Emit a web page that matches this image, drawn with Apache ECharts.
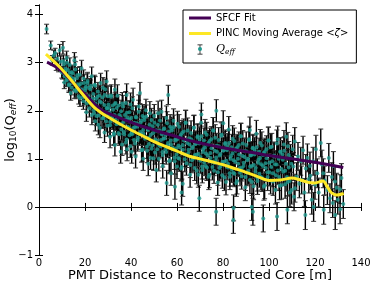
<!DOCTYPE html>
<html><head><meta charset="utf-8">
<script src="https://cdn.jsdelivr.net/npm/echarts@6/dist/echarts.min.js"></script>
<style>html,body{margin:0;padding:0;background:#fff}#c{width:374px;height:289px}</style>
</head><body><div id="c"></div><script>
// axis ticks
const xTicks = [0, 20, 40, 60, 80, 100, 120, 140];
const yTicks = [-1, 0, 1, 2, 3, 4];

// SFCF fit curve
const sfcfX = [3.5, 10, 15, 20, 26.5, 30, 40, 50, 60, 64, 70, 80, 90, 94, 100, 110, 120, 132.3];
const sfcfY = [3.01, 2.82, 2.57, 2.34, 2.04, 1.95, 1.76, 1.60, 1.46, 1.40, 1.33, 1.23, 1.15, 1.12, 1.07, 1.00, 0.93, 0.82];

// PINC moving average
const pincX = [3, 6, 9, 12, 15, 18, 21, 24, 27, 30, 35, 40, 45, 50, 55, 60, 65, 70, 75, 80, 85, 90, 95, 100, 105, 110, 113, 117, 120, 123.5, 125, 127, 129.5, 132.5];
const pincY = [3.18, 3.05, 2.91, 2.75, 2.58, 2.40, 2.23, 2.07, 1.96, 1.87, 1.73, 1.60, 1.48, 1.36, 1.26, 1.16, 1.06, 1.00, 0.94, 0.88, 0.80, 0.72, 0.63, 0.55, 0.56, 0.60, 0.57, 0.51, 0.50, 0.54, 0.45, 0.30, 0.25, 0.28];

// Q_eff points: [distance, log10(Qeff), error]
const qeffA = [
[3.3,3.70,0.10],[5.1,3.36,0.09],[5.8,3.05,0.10],[6.4,3.15,0.11],[7.0,3.20,0.10],[7.5,2.95,0.11],[8.0,3.08,0.12],[8.5,2.92,0.11],[9.0,3.26,0.12],[9.4,3.02,0.12],[9.9,2.80,0.12],[10.4,3.31,0.13],[10.8,2.96,0.12],[11.2,2.72,0.13],[11.6,2.88,0.13],[12.0,3.10,0.14],[12.3,2.64,0.13],
[12.6,2.85,0.14],[13.0,2.55,0.14],[13.4,2.95,0.15],[13.8,2.70,0.14],[14.2,2.48,0.15],[14.6,2.78,0.15],[15.0,2.62,0.15],[15.4,3.05,0.16],[15.7,2.96,0.16],[16.1,2.40,0.15],[16.5,2.68,0.16],[16.9,2.55,0.16],[17.3,2.30,0.16],[17.7,2.75,0.17],[18.1,2.45,0.16],[18.5,2.88,0.17],[18.9,2.38,0.17],[19.3,2.20,0.17],[19.6,2.58,0.17],[20.0,2.42,0.18],[20.4,2.50,0.17],[20.7,2.15,0.18],[21.1,2.62,0.18],[21.5,2.30,0.18],[21.9,2.05,0.18],[22.3,2.45,0.19],[22.9,2.72,0.19],[23.2,2.18,0.19],[23.6,2.35,0.18],[24.0,1.95,0.19],[24.4,2.52,0.19],[24.5,1.78,0.20],[24.8,2.25,0.19],[25.2,2.08,0.20],[25.6,2.40,0.19],[26.0,1.90,0.20],[26.4,2.20,0.20],[26.5,1.64,0.20],[26.8,2.58,0.20],[27.2,2.00,0.20],[27.6,2.28,0.21],[28.0,1.85,0.20],[28.4,2.12,0.21],[28.5,1.55,0.21],[28.8,2.45,0.21],[29.2,1.78,0.21],[29.4,2.61,0.22],[29.6,2.05,0.21],[30.0,2.30,0.22],[30.3,1.92,0.22],
[30.5,2.06,0.22],[30.9,1.70,0.22],[30.9,1.46,0.23],[31.3,2.29,0.22],[31.7,1.87,0.22],[32.1,2.11,0.23],[32.5,1.50,0.22],[32.9,1.91,0.23],[33.0,2.44,0.22],[33.0,1.29,0.23],[33.3,2.16,0.23],[33.7,1.72,0.22],[34.1,2.31,0.23],[34.5,1.54,0.23],[34.9,1.91,0.22],[35.3,1.72,0.23],[35.5,1.15,0.24],[35.7,1.99,0.23],[36.1,1.30,0.23],[36.5,2.09,0.23],[36.9,1.56,0.22],[37.3,1.82,0.23],[37.7,2.16,0.24],[38.1,1.40,0.23],[38.1,2.33,0.23],[38.3,1.20,0.24],[38.5,1.86,0.23],[38.9,1.65,0.23],[39.3,1.97,0.24],[39.7,1.26,0.23],[40.1,1.85,0.23],[40.3,1.15,0.24],[40.5,1.51,0.23],[40.9,2.23,0.24],[41.3,1.39,0.23],[41.7,1.66,0.24],[42.0,1.05,0.24],[42.1,1.87,0.23],[42.5,1.74,0.24],[42.9,1.39,0.23],[43.3,1.98,0.24],[43.9,2.37,0.22],[44.1,1.56,0.24],[44.5,1.80,0.23],[44.9,1.19,0.24],[45.3,1.00,0.24],[45.3,1.60,0.23],[45.7,1.86,0.24],[46.1,1.42,0.24],[46.5,2.01,0.23],[46.9,1.25,0.24],[47.3,1.62,0.24],[47.5,0.90,0.25],[47.7,1.44,0.23],[48.1,1.71,0.24],[48.5,1.02,0.24],[48.9,1.81,0.24],[49.3,1.28,0.24],[49.7,1.54,0.23],[50.1,1.89,0.24],[50.5,1.13,0.24],[50.9,1.59,0.24],[51.0,0.77,0.25],[51.3,1.38,0.24],[51.7,1.71,0.24],[52.1,1.00,0.25],[52.5,1.59,0.24],[52.9,1.26,0.24],[53.3,1.98,0.24],[53.7,1.14,0.24],[53.8,0.85,0.25],[54.1,1.42,0.24],[54.5,1.63,0.25],[54.9,1.50,0.24],[55.3,1.14,0.25],[55.5,0.50,0.26],[55.7,1.74,0.24],[56.1,1.33,0.25],[56.2,2.33,0.20],[56.5,1.57,0.24],[56.9,0.97,0.25],[57.3,1.38,0.25],[57.4,0.70,0.25],[57.7,1.63,0.24],[58.1,1.20,0.25],[58.5,1.79,0.25],[58.9,1.03,0.25],[59.1,0.42,0.26],[59.3,1.40,0.25],[59.7,1.22,0.25],[60.0,0.84,0.25],
[60.1,1.41,0.25],[60.5,1.02,0.25],[60.9,1.67,0.25],[61.3,1.24,0.25],[61.7,1.50,0.26],[62.0,0.30,0.26],[62.1,0.83,0.25],[62.5,1.29,0.25],[62.5,0.48,0.26],[62.9,1.57,0.26],[63.3,1.09,0.25],[63.7,1.75,0.26],[64.1,0.91,0.25],[64.5,1.33,0.26],[64.9,1.12,0.25],[65.3,1.43,0.26],[65.7,0.67,0.26],[66.1,1.54,0.25],[66.5,0.97,0.26],[66.9,1.25,0.25],[67.3,1.64,0.26],[67.7,0.81,0.26],[68.1,1.31,0.25],[68.5,1.09,0.26],[68.9,1.45,0.26],[69.3,0.67,0.26],[69.7,0.18,0.27],[69.7,1.32,0.25],[70.1,0.96,0.26],[70.5,1.75,0.26],[70.6,1.92,0.24],[70.9,0.84,0.26],[71.3,1.14,0.26],[71.7,1.38,0.26],[72.1,1.24,0.26],[72.5,0.85,0.27],[72.9,1.50,0.26],[73.3,1.07,0.26],[73.7,1.33,0.26],[74.1,0.67,0.27],[74.5,1.12,0.26],[74.9,1.41,0.26],[75.3,0.94,0.26],[75.7,1.59,0.27],[76.1,0.75,0.26],[76.5,1.17,0.26],[76.9,0.96,0.27],[77.0,-0.10,0.28],[77.1,2.00,0.23],[77.3,1.27,0.26],[77.7,0.51,0.27],[78.1,1.39,0.26],[78.5,0.81,0.27],[78.9,1.10,0.26],[79.3,1.48,0.27],[79.7,0.66,0.27],[80.1,1.17,0.26],[80.1,1.74,0.26],[80.5,0.94,0.27],[80.9,1.31,0.26],[81.3,0.52,0.27],[81.7,1.18,0.27],[82.1,0.82,0.26],[82.5,1.61,0.27],[82.9,0.70,0.27],[83.3,1.00,0.26],[83.7,1.24,0.27],[84.1,1.11,0.27],[84.5,0.71,0.27],[84.5,-0.27,0.28],[84.6,-0.02,0.27],[84.9,1.37,0.27],[85.3,0.94,0.27],[85.7,1.21,0.27],[86.1,0.54,0.27],[86.5,1.00,0.27],[86.9,1.29,0.27],[87.3,0.81,0.27],[87.7,1.47,0.27],[88.1,0.64,0.27],[88.5,1.06,0.27],[88.9,0.85,0.27],[89.3,1.16,0.27],[89.7,0.41,0.28],[90.1,1.29,0.27],[90.5,0.71,0.27],[90.9,1.00,0.27],[91.3,1.39,0.27],[91.7,0.56,0.28],[91.7,1.60,0.27],[92.1,1.07,0.27],[92.5,0.00,0.28],[92.5,0.85,0.27],[92.9,1.22,0.27],[93.0,-0.10,0.28],[93.3,0.43,0.28],[93.7,1.09,0.27],[94.1,0.73,0.27],[94.5,1.52,0.28],[94.9,0.61,0.28],[95.3,0.92,0.27],[95.7,1.15,0.28],[96.1,1.02,0.27],[96.5,0.63,0.28],[96.9,1.28,0.28],[97.3,0.85,0.27],[97.5,-0.24,0.28],[97.7,1.12,0.28],[98.1,0.45,0.28],[98.5,0.91,0.27],[98.9,1.20,0.28],[99.3,0.72,0.28],[99.7,1.38,0.28],
[100.2,0.92,0.28],[100.7,0.55,0.28],[101.2,1.25,0.28],[101.7,0.70,0.28],[102.2,1.05,0.28],[102.8,0.35,0.29],[103.3,0.88,0.28],[103.5,-0.20,0.29],[103.8,1.40,0.28],[104.4,0.62,0.28],[104.9,1.15,0.29],[105.4,0.45,0.29],[106.0,0.98,0.28],[106.5,1.30,0.29],[107.0,0.75,0.28],[107.5,1.46,0.29],[108.0,-0.06,0.29],[108.1,0.52,0.29],[108.6,1.08,0.28],[109.1,0.30,0.29],[109.7,0.90,0.29],[110.3,1.20,0.29],[110.6,0.84,0.29],[110.9,0.21,0.29],[111.2,1.36,0.29],[111.3,0.39,0.29],[112.0,0.63,0.29],[112.6,1.05,0.29],[113.2,0.48,0.29],[113.8,0.95,0.29],[114.2,0.56,0.29],[114.8,1.18,0.29],[115.4,0.30,0.29],[115.8,-0.17,0.30],[116.0,0.80,0.29],[116.7,1.02,0.29],[117.3,0.58,0.29],[117.8,0.85,0.29],[118.0,0.65,0.29],[118.6,0.15,0.30],[119.2,0.95,0.29],[119.4,0.00,0.30],[120.0,0.46,0.30],[120.4,1.20,0.29],[121.0,0.70,0.30],[121.6,0.30,0.30],[122.5,1.33,0.29],[123.0,0.88,0.30],[123.6,0.70,0.30],[123.8,-0.06,0.30],[124.2,0.55,0.30],[125.4,0.35,0.30],[126.0,1.02,0.30],[126.5,0.18,0.30],[127.3,0.62,0.30],[127.7,0.08,0.30],[128.0,0.85,0.30],[128.7,0.53,0.30],[128.8,-0.17,0.30],[129.4,0.40,0.30],[129.9,0.15,0.30],[130.9,0.37,0.30],[130.9,-0.05,0.30],[131.5,0.60,0.30],[132.3,0.06,0.30]
];
const qeffB = [
[10.2,2.79,0.13],[10.6,3.03,0.13],[11.0,2.59,0.13],[11.4,2.83,0.14],[11.8,2.64,0.14],[12.2,3.00,0.14],[12.6,2.72,0.14],[13.0,2.53,0.15],[13.4,2.79,0.15],[13.8,2.37,0.15],[14.2,2.80,0.15],[14.6,2.57,0.15],[15.0,2.67,0.16],[15.4,2.42,0.16],[15.8,2.86,0.16],[16.2,2.44,0.16],[16.6,2.74,0.16],[17.0,2.48,0.17],[17.4,2.53,0.17],[17.8,2.26,0.17],[18.2,2.56,0.17],[18.6,2.43,0.17],[19.0,2.28,0.18],[19.4,2.67,0.18],[19.8,2.31,0.18],
[20.2,2.47,0.18],[20.6,1.97,0.19],[21.0,2.58,0.19],[21.4,2.25,0.19],[21.8,2.48,0.19],[22.2,2.16,0.19],[22.6,2.52,0.19],[23.0,1.91,0.20],[23.4,2.26,0.20],[23.8,2.01,0.20],[24.2,2.54,0.20],[24.6,2.15,0.20],[25.0,1.89,0.20],[25.4,2.29,0.20],[25.8,1.71,0.21],[26.2,2.32,0.21],[26.6,2.02,0.21],[27.0,2.17,0.21],[27.4,1.84,0.21],[27.8,2.48,0.21],[28.2,1.89,0.21],[28.6,2.33,0.21],[29.0,1.97,0.22],[29.4,2.06,0.22],[29.8,1.69,0.22],
[30.2,2.13,0.22],[30.6,1.97,0.22],[31.0,1.77,0.22],[31.4,2.32,0.22],[31.8,1.83,0.22],[32.2,2.02,0.23],[32.6,1.53,0.23],[33.0,2.14,0.23],[33.4,1.82,0.23],[33.8,2.06,0.23],[34.2,1.75,0.23],[34.6,2.11,0.23],[35.0,1.51,0.23],[35.4,1.87,0.23],[35.8,1.61,0.23],[36.2,2.15,0.23],[36.6,1.76,0.23],[37.0,1.51,0.24],[37.4,1.91,0.24],[37.8,1.34,0.24],[38.2,1.96,0.24],[38.6,1.66,0.24],[39.0,1.82,0.24],[39.4,1.49,0.24],[39.8,2.13,0.24],
[40.2,1.54,0.24],[40.6,2.05,0.24],[41.0,1.64,0.24],[41.4,1.75,0.24],[41.8,1.32,0.24],[42.2,1.86,0.24],[42.6,1.67,0.24],[43.0,1.44,0.24],[43.4,2.09,0.24],[43.8,1.52,0.24],[44.2,1.75,0.24],[44.6,1.18,0.25],[45.0,1.89,0.24],[45.4,1.52,0.24],[45.8,1.81,0.24],[46.2,1.45,0.24],[46.6,1.88,0.24],[47.0,1.17,0.25],[47.4,1.60,0.24],[47.8,1.31,0.25],[48.2,1.95,0.24],[48.6,1.50,0.25],[49.0,1.21,0.25],[49.4,1.68,0.25],[49.8,1.01,0.25],
[50.2,1.75,0.25],[50.6,1.40,0.25],[51.0,1.59,0.25],[51.4,1.20,0.25],[51.8,1.95,0.25],[52.2,1.29,0.25],[52.6,1.80,0.25],[53.0,1.39,0.25],[53.4,1.51,0.25],[53.8,1.08,0.25],[54.2,1.62,0.25],[54.6,1.43,0.25],[55.0,1.20,0.25],[55.4,1.85,0.25],[55.8,1.28,0.25],[56.2,1.52,0.25],[56.6,0.95,0.26],[57.0,1.67,0.25],[57.4,1.30,0.25],[57.8,1.59,0.25],[58.2,1.23,0.26],[58.6,1.66,0.25],[59.0,0.95,0.26],[59.4,1.38,0.26],[59.8,1.09,0.26],
[60.2,1.73,0.26],[60.6,1.28,0.26],[61.0,1.00,0.26],[61.4,1.47,0.26],[61.8,0.80,0.26],[62.2,1.54,0.26],[62.6,1.19,0.26],[63.0,1.38,0.26],[63.4,0.99,0.26],[63.8,1.75,0.26],[64.2,1.08,0.26],[64.6,1.59,0.26],[65.0,1.19,0.26],[65.4,1.30,0.26],[65.8,0.87,0.26],[66.2,1.41,0.26],[66.6,1.22,0.26],[67.0,1.00,0.26],[67.4,1.65,0.26],[67.8,1.08,0.26],[68.2,1.32,0.26],[68.6,0.75,0.27],[69.0,1.47,0.26],[69.4,1.10,0.26],[69.8,1.40,0.26],
[70.2,1.04,0.27],[70.6,1.47,0.27],[71.0,0.77,0.27],[71.4,1.20,0.27],[71.8,0.92,0.27],[72.2,1.55,0.27],[72.6,1.11,0.27],[73.0,0.82,0.27],[73.4,1.30,0.27],[73.8,0.63,0.27],[74.2,1.37,0.27],[74.6,1.02,0.27],[75.0,1.22,0.27],[75.4,0.83,0.27],[75.8,1.59,0.27],[76.2,0.92,0.27],[76.6,1.44,0.27],[77.0,1.03,0.27],[77.4,1.15,0.27],[77.8,0.72,0.27],[78.2,1.26,0.27],[78.6,1.07,0.27],[79.0,0.85,0.27],[79.4,1.50,0.27],[79.8,0.94,0.27],
[80.2,1.18,0.27],[80.6,0.61,0.27],[81.0,1.33,0.27],[81.4,0.96,0.27],[81.8,1.26,0.27],[82.2,0.90,0.27],[82.6,1.33,0.27],[83.0,0.63,0.27],[83.4,1.06,0.27],[83.8,0.78,0.27],[84.2,1.42,0.27],[84.6,0.97,0.27],[85.0,0.69,0.27],[85.4,1.17,0.27],[85.8,0.50,0.28],[86.2,1.24,0.27],[86.6,0.90,0.27],[87.0,1.09,0.27],[87.4,0.71,0.27],[87.8,1.47,0.27],[88.2,0.81,0.27],[88.6,1.32,0.27],[89.0,0.92,0.27],[89.4,1.04,0.27],[89.8,0.62,0.28],
[90.2,1.16,0.27],[90.6,0.97,0.27],[91.0,0.75,0.28],[91.4,1.41,0.27],[91.8,0.84,0.28],[92.2,1.08,0.28],[92.6,0.52,0.28],[93.0,1.23,0.28],[93.4,0.87,0.28],[93.8,1.17,0.28],[94.2,0.81,0.28],[94.6,1.24,0.28],[95.0,0.54,0.28],[95.4,0.98,0.28],[95.8,0.69,0.28],[96.2,1.33,0.28],[96.6,0.89,0.28],[97.0,0.60,0.28],[97.4,1.08,0.28],[97.8,0.42,0.28],[98.2,1.15,0.28],[98.6,0.81,0.28],[99.0,1.01,0.28],[99.4,0.62,0.28],[99.8,1.38,0.28],
[100.2,0.72,0.28],[100.6,1.24,0.28],[101.0,0.83,0.28],[101.4,0.95,0.28],[101.8,0.53,0.29],[102.2,1.07,0.28],[102.6,0.89,0.28],[103.0,0.66,0.29],[103.4,1.32,0.28],[103.8,0.76,0.29],[104.2,1.00,0.29],[104.6,0.44,0.29],[105.0,1.15,0.29],[105.4,0.79,0.29],[105.8,1.09,0.29],[106.2,0.73,0.29],[106.6,1.17,0.29],[107.0,0.47,0.29],[107.4,0.90,0.29],[107.8,0.62,0.29],[108.2,1.26,0.29],[108.6,0.82,0.29],[109.0,0.54,0.29],[109.4,1.01,0.29],[109.8,0.35,0.29]
];
const qeff = qeffA.concat(qeffB);

const FONT = 'DejaVu Sans';
const TEAL = '#1f998e';
const chart = echarts.init(document.getElementById('c'), null, {renderer: 'canvas'});
const fmtY = v => (v < 0 ? '\u2212' + Math.abs(v) : String(v));

const axisCommon = {
  axisLine: {show: true, lineStyle: {color: '#000', width: 1}},
  axisTick: {show: true, inside: true, length: 4, lineStyle: {color: '#000', width: 1}},
  splitLine: {show: false}
};

chart.setOption({
  animation: false,
  backgroundColor: '#fff',
  grid: {left: 39, right: 13, top: 5, bottom: 34, containLabel: false, outerBoundsMode: 'none'},
  legend: {
    orient: 'vertical', left: 183, top: 10,
    padding: [3, 8, 7, 6],
    itemWidth: 22, itemHeight: 10, itemGap: 5.5,
    borderColor: '#000', borderWidth: 1, backgroundColor: '#fff',
    textStyle: {fontFamily: FONT, fontSize: 10, color: '#000',
      rich: {
        m: {fontFamily: FONT, fontSize: 10, fontStyle: 'italic', color: '#000'},
        q: {fontFamily: 'DejaVu Serif', fontSize: 11, fontStyle: 'italic', color: '#000'},
        s: {fontFamily: 'DejaVu Serif', fontSize: 7.5, fontStyle: 'italic', color: '#000', padding: [5, 0, 0, 0]}
      }},
    formatter: name => name === 'Qeff' ? '{q|Q}{s|eff}' :
      (name === 'PINC Moving Average' ? 'PINC Moving Average {m|<ζ>}' : name),
    data: [
      {name: 'SFCF Fit', icon: 'path://M0,0H22V3H0Z'},
      {name: 'PINC Moving Average', icon: 'path://M0,0H22V3H0Z'},
      {name: 'Qeff', icon: 'path://M0,0H7V1H0ZM3,0H4V14H3ZM0,13H7V14H0Z', itemStyle: {color: '#000'}}
    ]
  },
  graphic: [
    {type: 'circle', left: 198, top: 47, z: 100, shape: {r: 2}, style: {fill: TEAL}}
  ],
  xAxis: [
    Object.assign({}, axisCommon, {
      type: 'value', min: xTicks[0], max: xTicks[xTicks.length - 1], interval: 20,
      position: 'bottom',
      axisLabel: {fontFamily: FONT, fontSize: 10, color: '#000', margin: 3},
      name: 'PMT Distance to Reconstructed Core [m]', nameLocation: 'middle', nameGap: 14,
      nameMoveOverlap: false,
      nameTextStyle: {fontFamily: FONT, fontSize: 13, color: '#000'}
    }),
    Object.assign({}, axisCommon, {
      type: 'value', min: xTicks[0], max: xTicks[xTicks.length - 1], interval: 20,
      position: 'top', axisLabel: {show: false}
    })
  ],
  yAxis: [
    Object.assign({}, axisCommon, {
      type: 'value', min: yTicks[0], max: 4.2, interval: 1, position: 'left',
      axisLabel: {fontFamily: FONT, fontSize: 10, color: '#000', margin: 6, formatter: fmtY, showMaxLabel: false},
      name: '{a|log}{b|10}{a|(Q}{c|eff}{a|)}', nameLocation: 'middle', nameGap: 21, nameRotate: 90,
      nameMoveOverlap: false,
      nameTextStyle: {fontFamily: FONT, fontSize: 13, color: '#000',
        rich: {
          a: {fontFamily: FONT, fontSize: 13, color: '#000'},
          b: {fontFamily: FONT, fontSize: 9, color: '#000', padding: [6, 0, 0, 0]},
          c: {fontFamily: FONT, fontSize: 9, fontStyle: 'italic', color: '#000', padding: [6, 0, 0, 0]}
        }}
    }),
    Object.assign({}, axisCommon, {
      type: 'value', min: yTicks[0], max: 4.2, interval: 1, position: 'right',
      axisLabel: {show: false}
    })
  ],
  series: [
    {
      name: 'Qeff', type: 'custom', z: 2,
      data: qeff,
      encode: {x: 0, y: 1},
      renderItem: (params, api) => {
        const x = api.value(0), y = api.value(1), e = api.value(2);
        const t = api.coord([x, y + e]), b = api.coord([x, y - e]);
        const w = 2.5;
        return {type: 'group', children: [
          {type: 'line', shape: {x1: t[0], y1: t[1], x2: b[0], y2: b[1]}, style: {stroke: '#000', lineWidth: 1.4}},
          {type: 'line', shape: {x1: t[0] - w, y1: t[1], x2: t[0] + w, y2: t[1]}, style: {stroke: '#333', lineWidth: 1}},
          {type: 'line', shape: {x1: b[0] - w, y1: b[1], x2: b[0] + w, y2: b[1]}, style: {stroke: '#333', lineWidth: 1}}
        ]};
      }
    },
    {
      name: 'QeffMarkers', type: 'scatter', z: 3,
      data: qeff.map(p => [p[0], p[1]]),
      symbolSize: 4, itemStyle: {color: TEAL}
    },
    {
      name: 'SFCF Fit', type: 'line', z: 4, smooth: true, symbol: 'none',
      data: sfcfX.map((x, i) => [x, sfcfY[i]]),
      lineStyle: {color: '#440154', width: 3}, itemStyle: {color: '#440154'}
    },
    {
      name: 'PINC Moving Average', type: 'line', z: 5, smooth: 0.3, symbol: 'none',
      data: pincX.map((x, i) => [x, pincY[i]]),
      lineStyle: {color: '#fde725', width: 3}, itemStyle: {color: '#fde725'}
    }
  ]
});
</script></body></html>
